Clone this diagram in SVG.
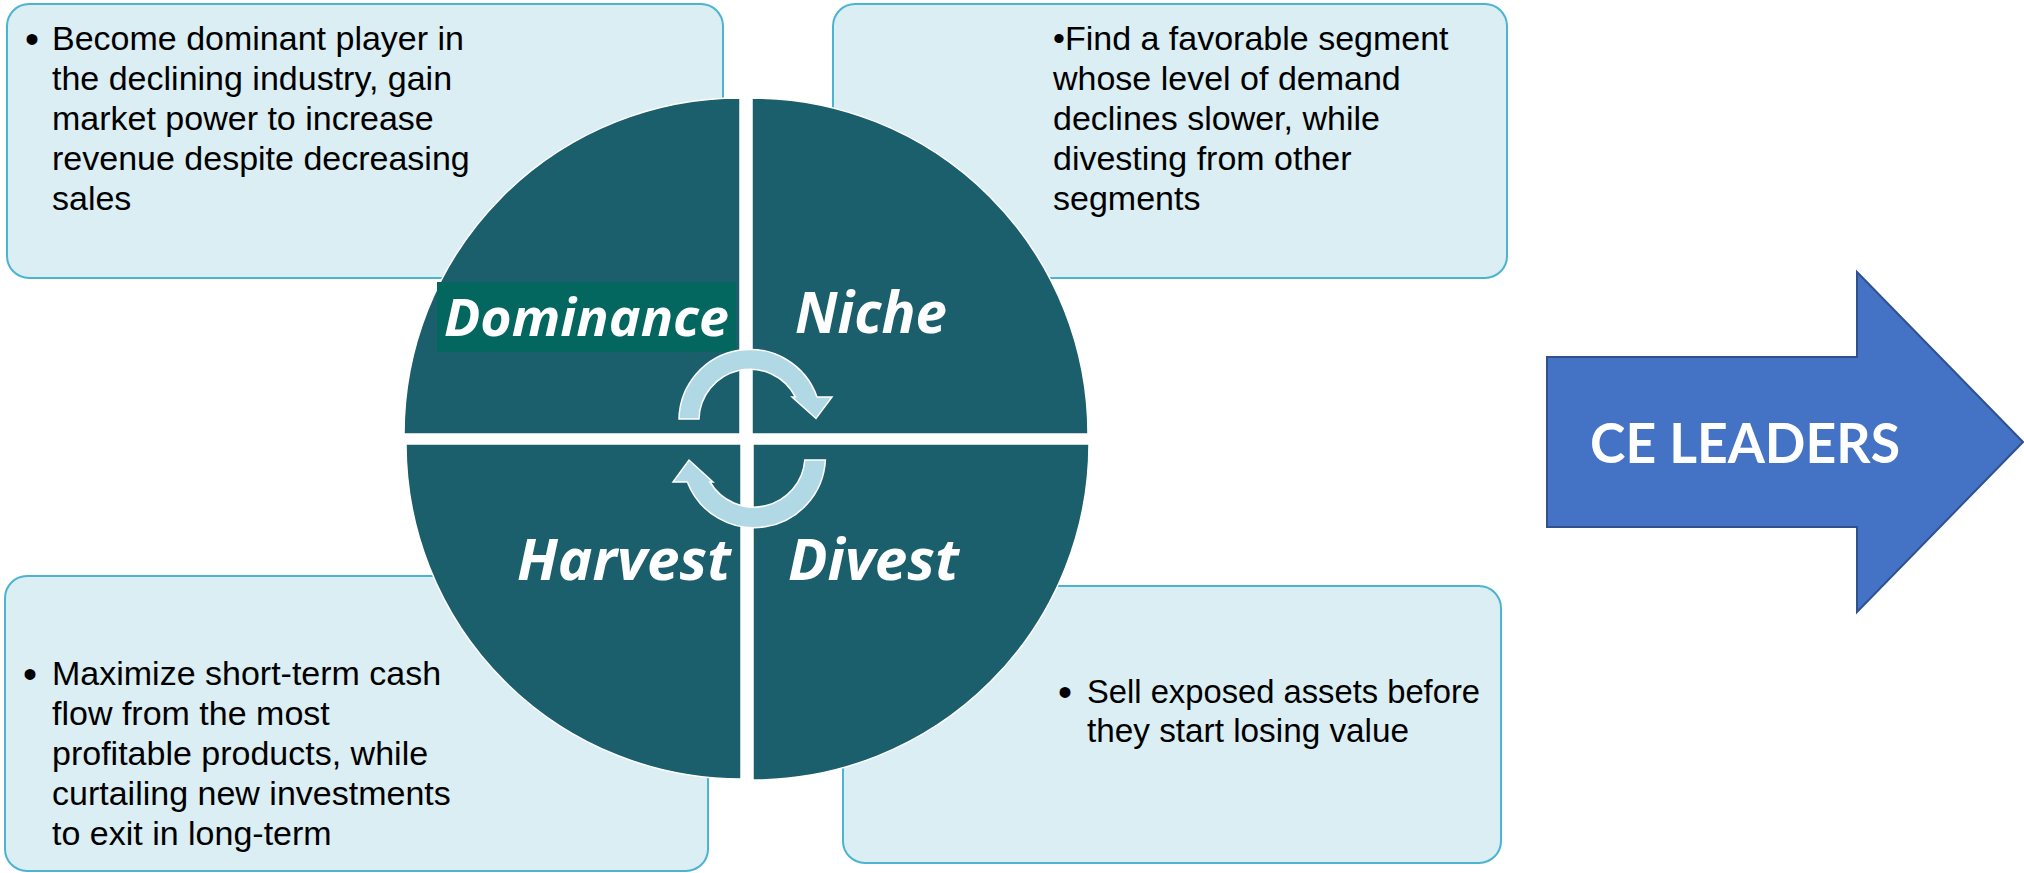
<svg xmlns="http://www.w3.org/2000/svg" width="2024" height="873" viewBox="0 0 2024 873">
  <style>
    .box { fill: #DAEEF3; stroke: #4BB4D0; stroke-width: 2; }
    .body { font-family: "Liberation Sans", Arial, sans-serif; font-size: 34px; fill: #000000; }
    .bullet { font-family: "Liberation Sans", Arial, sans-serif; font-size: 40px; fill: #000000; text-anchor: middle; }
    .quad { fill: #1C5F6C; stroke: #FFFFFF; stroke-width: 1.5; }
    .label { font-family: "Open Sans", "Liberation Sans", sans-serif; font-weight: bold; font-style: italic; fill: #FFFFFF; }
    .cycle { fill: #B0D9E5; stroke: #FFFFFF; stroke-width: 1.5; stroke-linejoin: miter; }
    .big-arrow { fill: #4472C4; stroke: #2F528F; stroke-width: 2; }
    .big-label { font-family: Lato, "Liberation Sans", sans-serif; font-weight: bold; font-size: 55px; fill: #FFFFFF; }
  </style>

  <rect width="2024" height="873" fill="#FFFFFF"/>

  <!-- description boxes -->
  <g id="box-dominance">
    <rect class="box" x="7" y="4" width="716" height="274" rx="22"/>
    <text class="bullet" x="32" y="53">•</text>
    <text class="body">
      <tspan x="52" y="50">Become dominant player in</tspan>
      <tspan x="52" y="90">the declining industry, gain</tspan>
      <tspan x="52" y="130">market power to increase</tspan>
      <tspan x="52" y="170">revenue despite decreasing</tspan>
      <tspan x="52" y="210">sales</tspan>
    </text>
  </g>

  <g id="box-niche">
    <rect class="box" x="833" y="4" width="674" height="274" rx="22"/>
    <text class="body">
      <tspan x="1053" y="50">•Find a favorable segment</tspan>
      <tspan x="1053" y="90">whose level of demand</tspan>
      <tspan x="1053" y="130">declines slower, while</tspan>
      <tspan x="1053" y="170">divesting from other</tspan>
      <tspan x="1053" y="210">segments</tspan>
    </text>
  </g>

  <g id="box-harvest">
    <rect class="box" x="5" y="576" width="703" height="295" rx="22"/>
    <text class="bullet" x="30" y="688">•</text>
    <text class="body">
      <tspan x="52" y="685">Maximize short-term cash</tspan>
      <tspan x="52" y="725">flow from the most</tspan>
      <tspan x="52" y="765">profitable products, while</tspan>
      <tspan x="52" y="805">curtailing new investments</tspan>
      <tspan x="52" y="845">to exit in long-term</tspan>
    </text>
  </g>

  <g id="box-divest">
    <rect class="box" x="843" y="586" width="658" height="277" rx="22"/>
    <text class="bullet" x="1065" y="706">•</text>
    <text class="body" x="1087" y="703" textLength="393" lengthAdjust="spacingAndGlyphs">Sell exposed assets before</text>
    <text class="body" x="1087" y="742" textLength="322" lengthAdjust="spacingAndGlyphs">they start losing value</text>
  </g>

  <!-- four quadrants of the strategy circle -->
  <g id="quadrant-dominance">
    <path class="quad" d="M740,434 H404 A336,336 0 0 1 740,98 Z"/>
    <rect x="437" y="282" width="299" height="70" fill="#03665F"/>
    <text class="label" x="444" y="336" font-size="52" textLength="285" lengthAdjust="spacingAndGlyphs">Dominance</text>
  </g>

  <g id="quadrant-niche">
    <path class="quad" d="M752,434 V98 A336,336 0 0 1 1088,434 Z"/>
    <text class="label" x="795" y="333" font-size="58" textLength="152" lengthAdjust="spacingAndGlyphs">Niche</text>
  </g>

  <g id="quadrant-harvest">
    <path class="quad" d="M741,444 V779 A335,335 0 0 1 406,444 Z"/>
    <text class="label" x="517" y="580" font-size="57" textLength="214" lengthAdjust="spacingAndGlyphs">Harvest</text>
  </g>

  <g id="quadrant-divest">
    <path class="quad" d="M753,444 H1089 A336,336 0 0 1 753,780 Z"/>
    <text class="label" x="788" y="580" font-size="57" textLength="171" lengthAdjust="spacingAndGlyphs">Divest</text>
  </g>

  <!-- cycle arrows between the quadrants -->
  <g id="connectors">
    <path class="cycle" d="M679,419 A71,71 0 0 1 817,397 L832,397 L816,418.5 L792,397 L795.4,397 A51,51 0 0 0 699,419 Z"/>
    <path class="cycle" d="M825.4,460 A71.5,71.5 0 0 1 687.3,482 L673,482 L689,460 L713,482 L710,482 A51,51 0 0 0 804.8,460 Z"/>
  </g>

  <!-- outcome arrow -->
  <g id="ce-leaders">
    <path class="big-arrow" d="M1547,357 H1857 V272 L2023,442 L1857,612 V527 H1547 Z"/>
    <text class="big-label" x="1590" y="463" textLength="310" lengthAdjust="spacingAndGlyphs">CE LEADERS</text>
  </g>
</svg>
